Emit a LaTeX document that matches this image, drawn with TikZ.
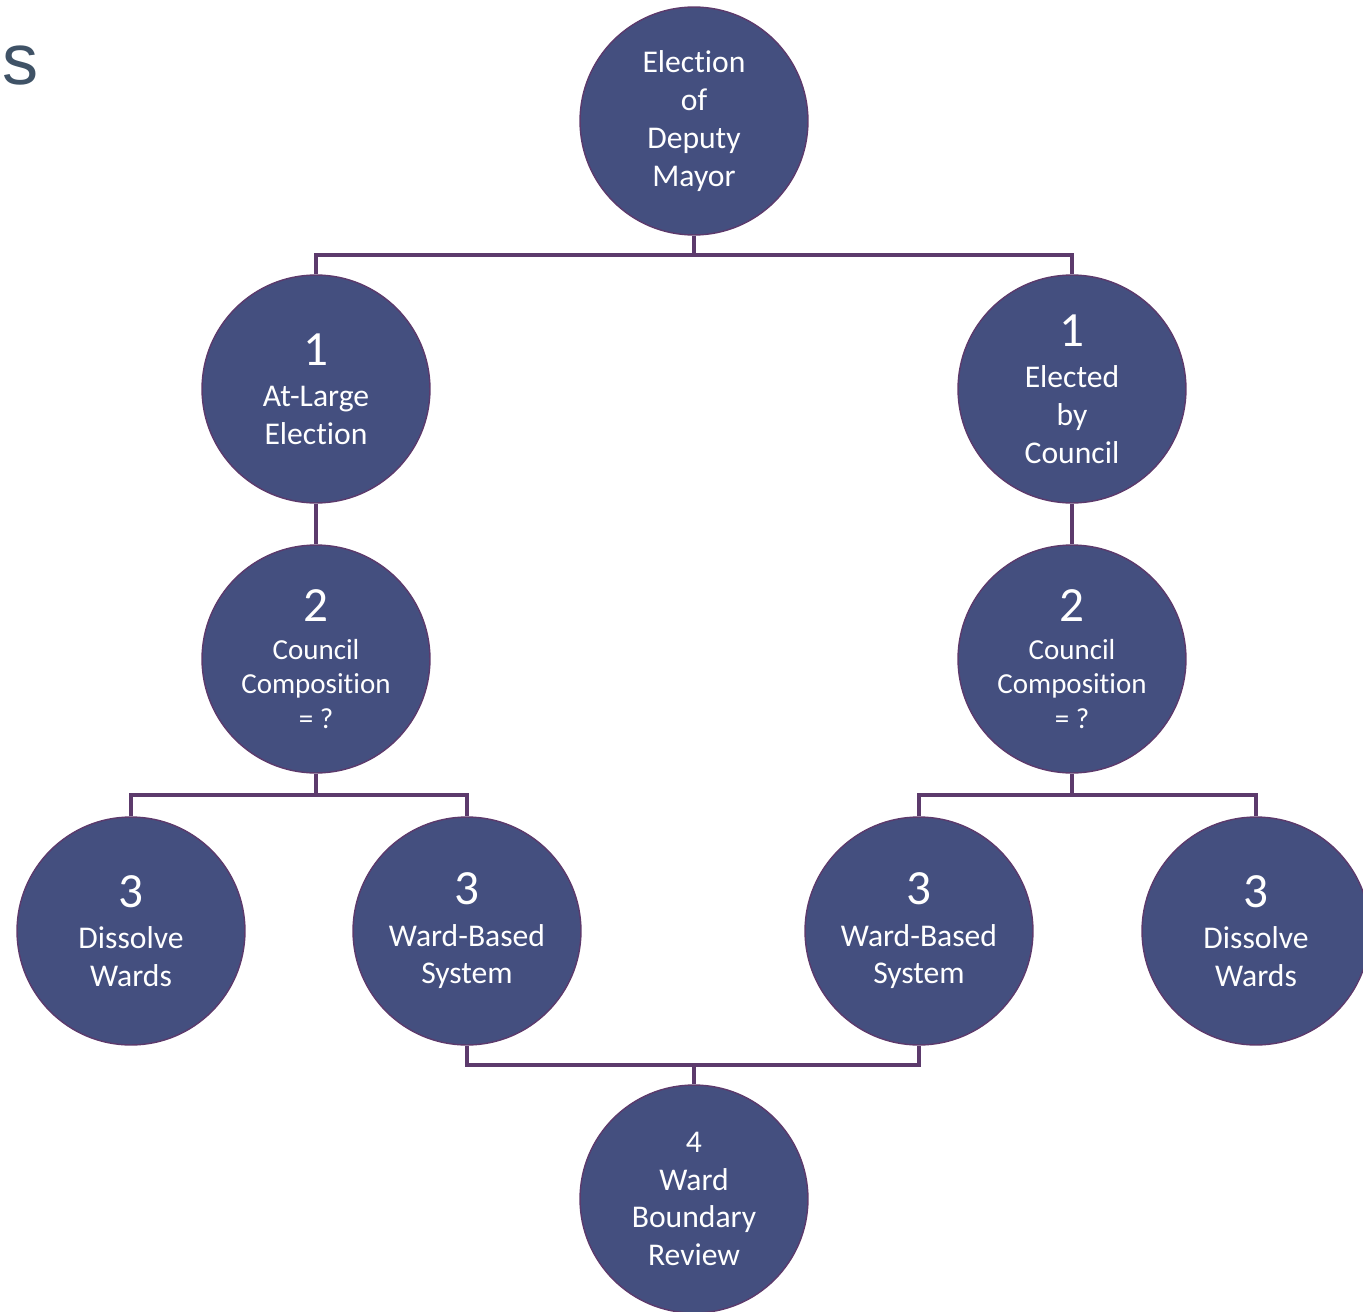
\documentclass[tikz,border=0pt]{standalone}
\usepackage{fontspec}
\setmainfont{Carlito}[Ligatures=NoCommon]
\newfontfamily\titlefont{Liberation Sans}
\definecolor{DiscFill}{HTML}{444F7F}
\definecolor{DiscLine}{HTML}{5C3A6C}
\definecolor{TitleGray}{HTML}{3F5266}
\tikzset{
  disc/.style={circle, fill=DiscFill, draw=DiscLine, line width=0.8pt,
    minimum size=4.56cm, inner sep=0pt, text=white, align=center,
    font=\fontsize{18}{21.5}\selectfont},
  link/.style={draw=DiscLine, line width=2.3pt}
}
\newcommand{\StepNum}[1]{{\fontsize{28}{30}\selectfont #1}}
\begin{document}
\begin{tikzpicture}[x=0.02cm,y=-0.02cm]
\useasboundingbox (0,0) rectangle (1363,1312);
% title remnant
\node[anchor=base west, inner sep=0pt, text=TitleGray,
  font=\titlefont\fontsize{41}{45}\selectfont] (ttl) at (2,84) {s};
% connectors
\coordinate (jTop) at (694,255);
\coordinate (jL) at (316,795);
\coordinate (jR) at (1072,795);
\coordinate (jBot) at (694,1065);
% discs
\node[disc] (top) at (694,121) {Election\\of\\Deputy\\Mayor};
\node[disc] (atl) at (316,389) {\StepNum{1}\\[2pt]At-Large\\Election};
\node[disc] (ebc) at (1072,389) {\StepNum{1}\\[2pt]Elected\\by\\Council};
\node[disc, font=\fontsize{16.5}{19.5}\selectfont] (ccL) at (316,659) {\StepNum{2}\\[2pt]Council\\Composition\\= ?};
\node[disc, font=\fontsize{16.5}{19.5}\selectfont] (ccR) at (1072,659) {\StepNum{2}\\[2pt]Council\\Composition\\= ?};
\node[disc] (dwL) at (131,931) {\StepNum{3}\\[2pt]Dissolve\\Wards};
\node[disc] (wbL) at (467,931) {\StepNum{3}\\[2pt]Ward-Based\\System};
\node[disc] (wbR) at (919,931) {\StepNum{3}\\[2pt]Ward-Based\\System};
\node[disc] (dwR) at (1256,931) {\StepNum{3}\\[2pt]Dissolve\\Wards};
\node[disc] (wbr) at (694,1199) {4\\Ward\\Boundary\\Review};
\draw[link] (top.south) -- (jTop);
\draw[link] (atl.north) |- (jTop) -| (ebc.north);
\draw[link] (atl.south) -- (ccL.north);
\draw[link] (ebc.south) -- (ccR.north);
\draw[link] (ccL.south) -- (jL);
\draw[link] (dwL.north) |- (jL) -| (wbL.north);
\draw[link] (ccR.south) -- (jR);
\draw[link] (wbR.north) |- (jR) -| (dwR.north);
\draw[link] (wbL.south) |- (jBot) -| (wbR.south);
\draw[link] (jBot) -- (wbr.north);
\end{tikzpicture}
\end{document}
